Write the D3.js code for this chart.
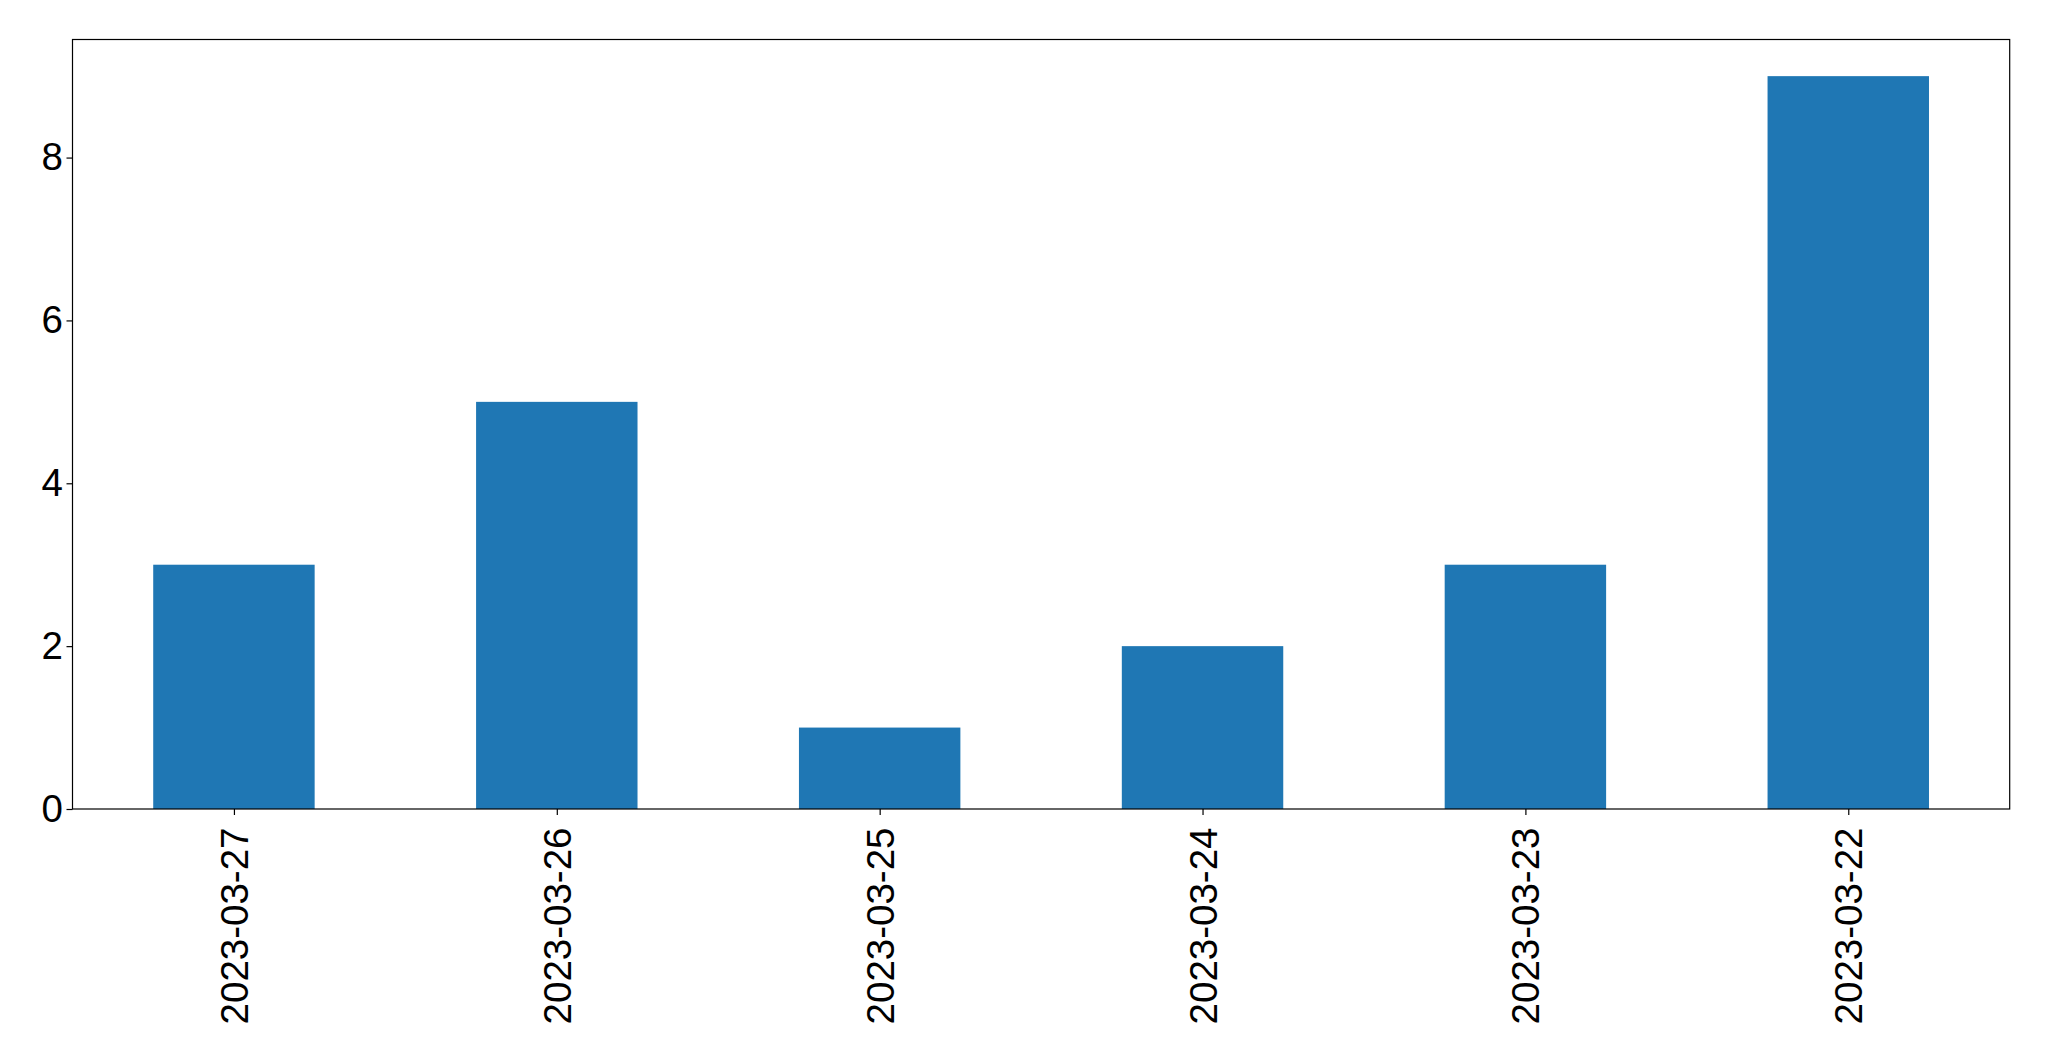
<!DOCTYPE html>
<html>
<head>
<meta charset="utf-8">
<script src="https://cdn.jsdelivr.net/npm/d3@7"></script>
<style>
  html, body { margin: 0; padding: 0; background: #fff; }
  svg { display: block; }
</style>
</head>
<body>
<script>
const categories = ["2023-03-27", "2023-03-26", "2023-03-25", "2023-03-24", "2023-03-23", "2023-03-22"];
const values = [3, 5, 1, 2, 3, 9];
const yTicks = [0, 2, 4, 6, 8];

const W = 2049, H = 1061;
const margin = { left: 72.5, top: 39.5, right: W - 2009.7, bottom: H - 809 };
const iw = W - margin.left - margin.right;
const ih = H - margin.top - margin.bottom;
const fontSize = 38.5;
const font = "Liberation Sans, Arial, sans-serif";

const svg = d3.select("body").append("svg").attr("width", W).attr("height", H);
const g = svg.append("g").attr("transform", `translate(${margin.left},${margin.top})`);

// index-based linear x (bar positions 0..n-1, width 0.5, limits -0.5..n-0.5)
const x = d3.scaleLinear().domain([-0.5, categories.length - 0.5]).range([0, iw]);
const y = d3.scaleLinear().domain([0, d3.max(values) * 1.05]).range([ih, 0]);
const bw = 0.5;

g.selectAll("rect.bar").data(values).enter().append("rect")
  .attr("class", "bar")
  .attr("x", (d, i) => x(i - bw / 2))
  .attr("width", (d, i) => x(i + bw / 2) - x(i - bw / 2))
  .attr("y", d => y(d))
  .attr("height", d => y(0) - y(d))
  .attr("fill", "#1f77b4");

// frame
g.append("rect").attr("x", 0).attr("y", 0).attr("width", iw).attr("height", ih)
  .attr("fill", "none").attr("stroke", "#000").attr("stroke-width", 1.2);

// y axis
const yAxis = d3.axisLeft(y).tickValues(yTicks).tickFormat(d3.format("d")).tickSize(6).tickPadding(3.5);
const ya = g.append("g").call(yAxis);
ya.select(".domain").remove();
ya.selectAll("line").attr("stroke", "#000").attr("stroke-width", 1.2);
ya.selectAll("text").attr("font-family", font).attr("font-size", fontSize).attr("fill", "#000");

// x axis
const xAxis = d3.axisBottom(x).tickValues(d3.range(categories.length))
  .tickFormat(i => categories[i]).tickSize(6).tickPadding(6);
const xa = g.append("g").attr("transform", `translate(0,${ih})`).call(xAxis);
xa.select(".domain").remove();
xa.selectAll("line").attr("stroke", "#000").attr("stroke-width", 1.2);
xa.selectAll("text")
  .attr("font-family", font).attr("font-size", fontSize).attr("fill", "#000")
  .attr("text-anchor", "end")
  .attr("dy", "0.35em")
  .attr("transform", "translate(0,18.5) rotate(-90)")
  .attr("x", 0).attr("y", 0);
</script>
</body>
</html>
